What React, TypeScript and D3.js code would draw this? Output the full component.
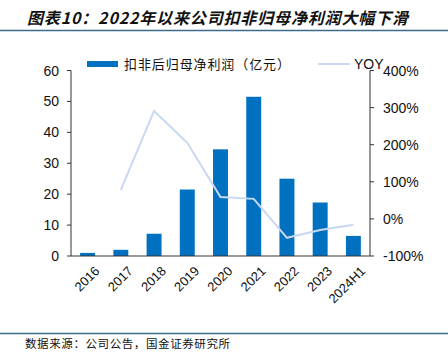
import React from "react";
import * as d3 from "d3";

const categories = ["2016", "2017", "2018", "2019", "2020", "2021", "2022", "2023", "2024H1"];
const profit = [1.0, 2.0, 7.2, 21.5, 34.5, 51.5, 25.0, 17.3, 6.5];
const yoy: (number | null)[] = [null, 78, 291, 205, 59, 54, -51, -30, -16];
const leftTicks = [0, 10, 20, 30, 40, 50, 60];
const rightTicks = [-100, 0, 100, 200, 300, 400];

const W = 448, H = 357;
const X0 = 71, X1 = 370, YT = 70.5, YB = 256;

export default function App() {
  const x = d3.scaleBand<string>().domain(categories).range([X0, X1]).paddingInner(0.55).paddingOuter(0.275);
  const yL = d3.scaleLinear().domain([0, 60]).range([YB, YT]);
  const yR = d3.scaleLinear().domain([-100, 400]).range([YB, YT]);
  const pts = categories
    .map((c, i) => ({ c, v: yoy[i] }))
    .filter((d) => d.v !== null) as { c: string; v: number }[];
  const line = d3
    .line<{ c: string; v: number }>()
    .x((d) => (x(d.c) as number) + x.bandwidth() / 2)
    .y((d) => yR(d.v));
  const font = "Liberation Sans, Arial, sans-serif";
  const cjk = "Noto Sans CJK SC, sans-serif";
  return (
    <svg width={W} height={H} style={{ position: "absolute", left: 0, top: 0 }}>
      <rect width={W} height={H} fill="#fff" />
      <text x={27} y={24} fontFamily={cjk} fontSize={16} fontWeight="bold" fontStyle="italic" fill="#111" textLength={381} lengthAdjust="spacing">
        图表10：2022年以来公司扣非归母净利润大幅下滑
      </text>
      <line x1={0} x2={W} y1={30.5} y2={30.5} stroke="#3d6b8c" strokeWidth={1.5} />
      {/* bars */}
      {categories.map((c, i) => (
        <rect key={c} x={x(c)} y={yL(profit[i])} width={x.bandwidth()} height={YB - yL(profit[i])} fill="#0070c0" />
      ))}
      <path d={line(pts) || ""} fill="none" stroke="#c9d8f2" strokeWidth={2} />
      {/* left axis */}
      <line x1={X0} x2={X0} y1={YT} y2={YB} stroke="#333" />
      {leftTicks.map((t) => (
        <g key={t}>
          <line x1={X0 - 4} x2={X0} y1={yL(t)} y2={yL(t)} stroke="#333" />
          <text x={X0 - 12} y={yL(t) + 5} textAnchor="end" fontFamily={font} fontSize={14} fill="#111">{t}</text>
        </g>
      ))}
      {/* bottom axis */}
      <line x1={X0} x2={X1} y1={YB} y2={YB} stroke="#333" />
      {categories.map((c) => {
        const cx = (x(c) as number) + x.bandwidth() / 2;
        return (
          <text key={c} transform={`translate(${cx + 6},${YB + 9}) rotate(-45)`} textAnchor="end" dominantBaseline="hanging" fontFamily={font} fontSize={13} fill="#111">
            {c}
          </text>
        );
      })}
      {/* right axis */}
      <line x1={X1} x2={X1} y1={YT} y2={YB} stroke="#333" />
      {rightTicks.map((t) => (
        <g key={t}>
          <line x1={X1} x2={X1 + 4} y1={yR(t)} y2={yR(t)} stroke="#333" />
          <text x={X1 + 13} y={yR(t) + 5} textAnchor="start" fontFamily={font} fontSize={14} fill="#111">{t}%</text>
        </g>
      ))}
      {/* legend */}
      <rect x={87} y={61} width={31} height={6} fill="#0070c0" />
      <text x={124} y={69} fontFamily={cjk} fontSize={13} fill="#111" textLength={166} lengthAdjust="spacing">扣非后归母净利润（亿元）</text>
      <line x1={318} x2={350} y1={64} y2={64} stroke="#c9d8f2" strokeWidth={2} />
      <text x={354} y={69} fontFamily={font} fontSize={14} fill="#111">YOY</text>
      {/* footer */}
      <line x1={0} x2={W} y1={333.5} y2={333.5} stroke="#3d6b8c" strokeWidth={1.5} />
      <text x={25} y={348} fontFamily={cjk} fontSize={11.5} fill="#111" textLength={205} lengthAdjust="spacing">数据来源：公司公告，国金证券研究所</text>
    </svg>
  );
}
